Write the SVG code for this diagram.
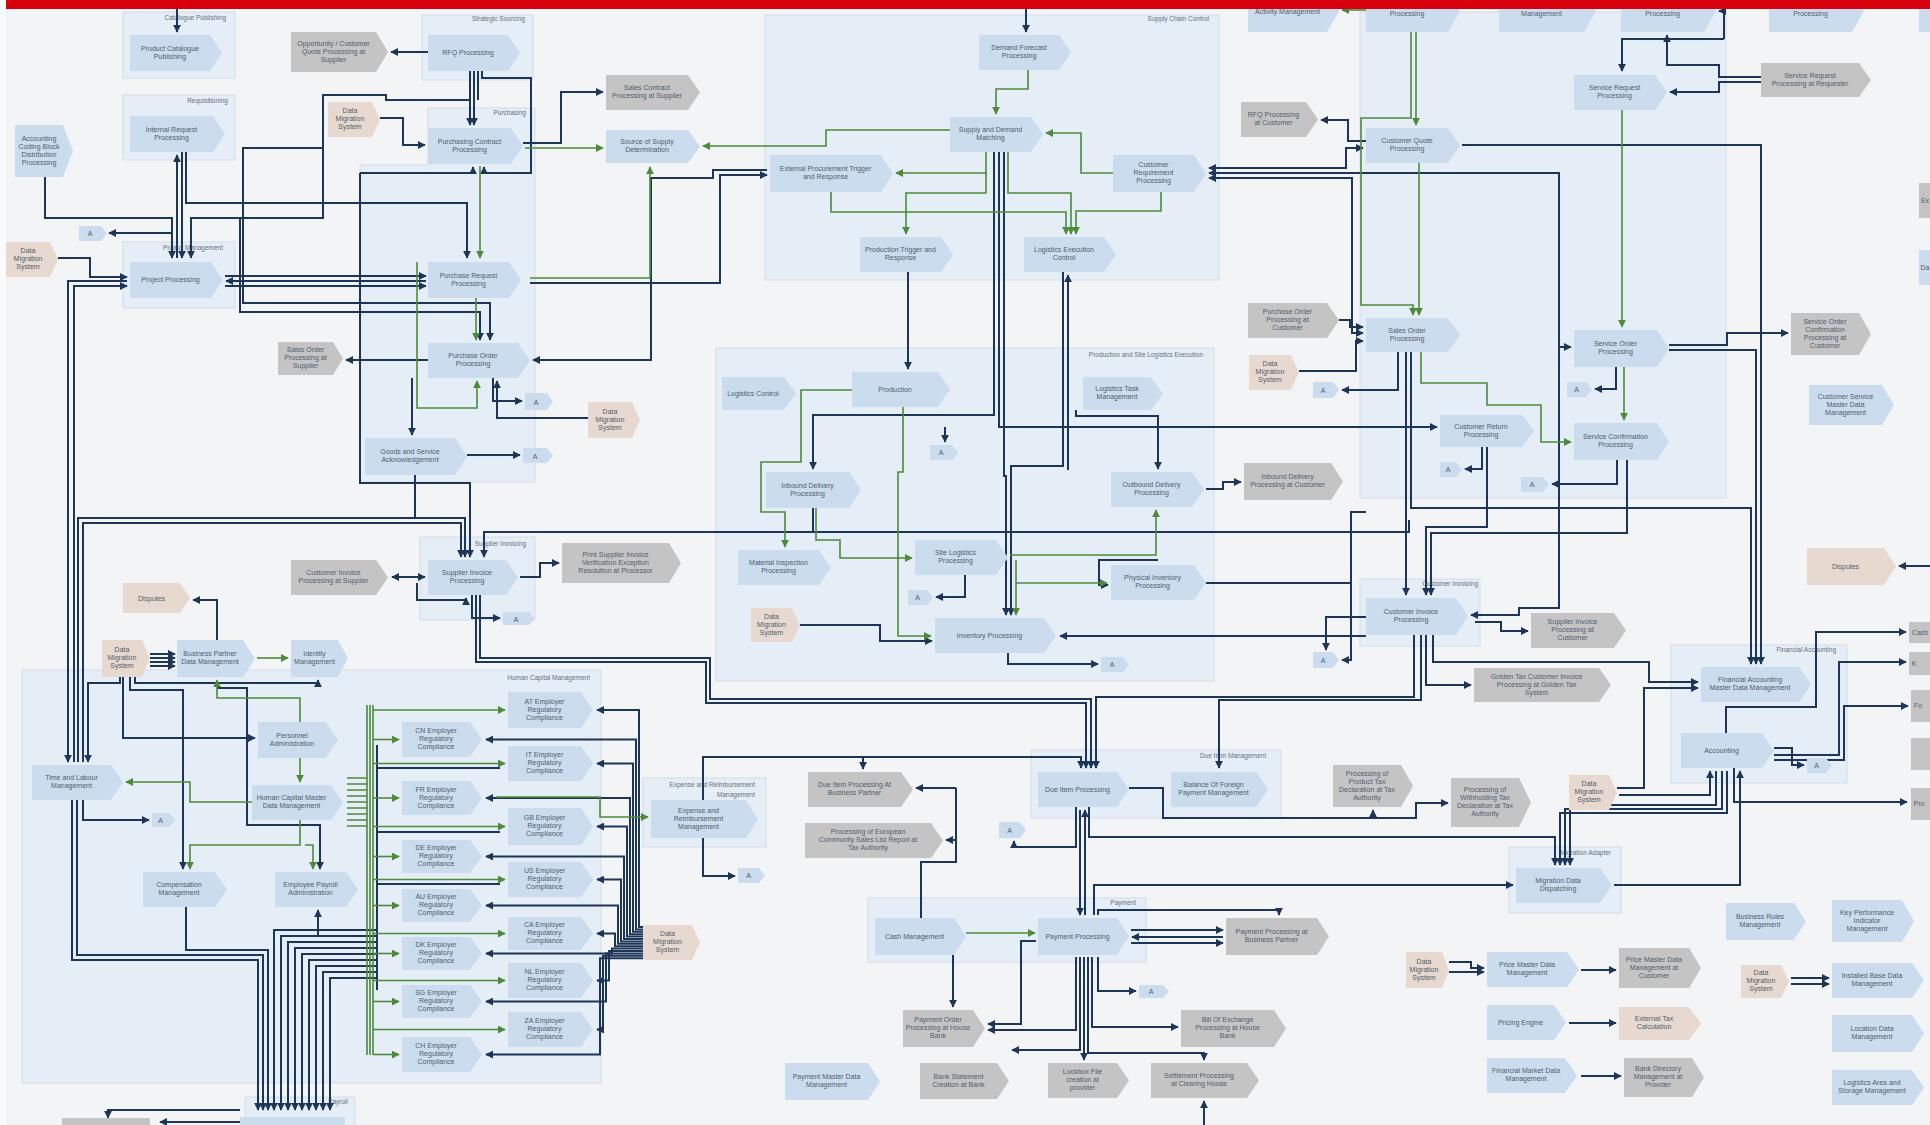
<svg xmlns="http://www.w3.org/2000/svg" width="1930" height="1125" viewBox="0 0 1930 1125">
<style>
.bg{fill:#f3f4f6}
.grp{fill:#e5edf6;stroke:#d4dce6;stroke-width:1}
.gl{font-family:"Liberation Sans",Arial,sans-serif;font-size:6.5px;fill:#66707c;text-anchor:end}
.int path{fill:#cbdcee}
.ext path{fill:#c4c4c4}
.mig path{fill:#e7d9cf}
.nd text{font-family:"Liberation Sans",Arial,sans-serif;font-size:7px;fill:#4f5d6c;text-anchor:middle}
.n{fill:none;stroke:#1d3657;stroke-width:2}
.g{fill:none;stroke:#4d8b3b;stroke-width:1.6}
</style>
<defs>
<marker id="an" viewBox="0 0 10 10" refX="9" refY="5" markerWidth="8" markerHeight="8" markerUnits="userSpaceOnUse" orient="auto"><path d="M0,0L10,5L0,10z" fill="#1d3657"/></marker>
<marker id="sn" viewBox="0 0 10 10" refX="9" refY="5" markerWidth="8" markerHeight="8" markerUnits="userSpaceOnUse" orient="auto-start-reverse"><path d="M0,0L10,5L0,10z" fill="#1d3657"/></marker>
<marker id="ag" viewBox="0 0 10 10" refX="9" refY="5" markerWidth="8" markerHeight="8" markerUnits="userSpaceOnUse" orient="auto"><path d="M0,0L10,5L0,10z" fill="#4d8b3b"/></marker>
</defs>
<rect class="bg" x="0" y="0" width="1930" height="1125"/>
<rect x="0" y="0" width="6" height="1125" fill="#fbfbfb"/>

<g id="groups">
<rect class="grp" x="123" y="12" width="112" height="66"/><text class="gl" x="226" y="20">Catalogue Publishing</text>
<rect class="grp" x="123" y="95" width="112" height="65"/><text class="gl" x="228" y="103">Requisitioning</text>
<rect class="grp" x="422" y="15" width="111" height="65"/><text class="gl" x="525" y="21">Strategic Sourcing</text>
<path class="grp" d="M428 108H535V482H360V165H428Z"/><text class="gl" x="526" y="115">Purchasing</text>
<rect class="grp" x="123" y="242" width="112" height="66"/><text class="gl" x="223" y="250">Project Management</text>
<rect class="grp" x="420" y="537" width="115" height="83"/><text class="gl" x="526" y="546">Supplier Invoicing</text>
<rect class="grp" x="765" y="15" width="454" height="265"/><text class="gl" x="1209" y="21">Supply Chain Control</text>
<rect class="grp" x="716" y="348" width="498" height="333"/><text class="gl" x="1203" y="357">Production and Site Logistics Execution</text>
<rect class="grp" x="1360" y="12" width="366" height="486"/>
<rect class="grp" x="1360" y="579" width="120" height="67"/><text class="gl" x="1478" y="586">Customer Invoicing</text>
<rect class="grp" x="22" y="670" width="579" height="413"/><text class="gl" x="590" y="680">Human Capital Management</text>
<rect class="grp" x="643" y="778" width="123" height="69"/><text class="gl" x="755" y="787">Expense and Reimbursement</text><text class="gl" x="755" y="797">Management</text>
<rect class="grp" x="1671" y="645" width="176" height="138"/><text class="gl" x="1836" y="652">Financial Accounting</text>
<rect class="grp" x="1031" y="750" width="250" height="68"/><text class="gl" x="1266" y="758">Due Item Management</text>
<rect class="grp" x="1509" y="847" width="112" height="66"/><text class="gl" x="1611" y="855">Migration Adapter</text>
<rect class="grp" x="868" y="898" width="278" height="64"/><text class="gl" x="1136" y="905">Payment</text>
<rect class="grp" x="245" y="1097" width="110" height="40"/><text class="gl" x="348" y="1104">Payroll</text>
</g>

<g id="connectors">
<path class="n" d="M177,9V32" marker-end="url(#an)"/>
<path class="n" d="M428,52H391" marker-end="url(#an)"/>
<path class="n" d="M470,71V125" marker-end="url(#an)"/>
<path class="n" d="M474,71V125" marker-end="url(#an)"/>
<path class="n" d="M478,71V100"/>
<path class="n" d="M482,71V78H531V173H484V167" marker-end="url(#an)"/>
<path class="n" d="M470,100H386V95H323V218H191V258" marker-end="url(#an)"/>
<path class="n" d="M177,258V155" marker-end="url(#an)"/>
<path class="n" d="M182,152V258" marker-end="url(#an)"/>
<path class="n" d="M186,152V203H467V258" marker-end="url(#an)"/>
<path class="n" d="M45,177V218H172V258" marker-end="url(#an)"/>
<path class="n" d="M173,233H109" marker-end="url(#an)"/>
<path class="n" d="M58,258H90V277H127" marker-end="url(#an)"/>
<path class="n" d="M127,281H68V762" marker-end="url(#an)"/>
<path class="n" d="M74,762V286H127" marker-end="url(#an)"/>
<path class="n" d="M78,762V518H465V557" marker-end="url(#an)"/>
<path class="n" d="M83,762V523H461V557" marker-end="url(#an)"/>
<path class="n" d="M225,276H426" marker-end="url(#an)"/>
<path class="n" d="M426,281H226" marker-end="url(#an)"/>
<path class="n" d="M225,286H426" marker-end="url(#an)"/>
<path class="n" d="M323,148H243V303H490V340" marker-end="url(#an)"/>
<path class="n" d="M240,218V312H480V340" marker-end="url(#an)"/>
<path class="n" d="M360,173H473V167" marker-end="url(#an)"/>
<path class="n" d="M360,173V483H470V557" marker-end="url(#an)"/>
<path class="n" d="M380,118H403V145H425" marker-end="url(#an)"/>
<path class="n" d="M428,360H346" marker-end="url(#an)"/>
<path class="n" d="M523,143H561V92H603" marker-end="url(#an)"/>
<path class="n" d="M530,283H720V175H767" marker-end="url(#an)"/>
<path class="n" d="M767,170H713V178H651V360H533" marker-end="url(#an)"/>
<path class="n" d="M412,378V435" marker-end="url(#an)"/>
<path class="n" d="M493,378V401H522" marker-end="url(#an)"/>
<path class="n" d="M588,418H497V381" marker-end="url(#an)"/>
<path class="n" d="M467,455H520" marker-end="url(#an)"/>
<path class="n" d="M415,475V518"/>
<path class="n" d="M392,577H425" marker-start="url(#sn)" marker-end="url(#an)"/>
<path class="n" d="M417,583V600H466V598" marker-end="url(#an)"/>
<path class="n" d="M520,577H540V563H559" marker-end="url(#an)"/>
<path class="n" d="M472,595V618H500" marker-end="url(#an)"/>
<path class="n" d="M476,595V662H706V703H1086V768" marker-end="url(#an)"/>
<path class="n" d="M480,595V658H710V699H1091V768" marker-end="url(#an)"/>
<path class="n" d="M150,654H175" marker-end="url(#an)"/>
<path class="n" d="M150,658H175" marker-end="url(#an)"/>
<path class="n" d="M150,662H175" marker-end="url(#an)"/>
<path class="n" d="M150,666H175" marker-end="url(#an)"/>
<path class="n" d="M217,640V600H193" marker-end="url(#an)"/>
<path class="n" d="M120,677V683H88V762" marker-end="url(#an)"/>
<path class="n" d="M123,677V738H255" marker-end="url(#an)"/>
<path class="n" d="M130,677V690H183V869" marker-end="url(#an)"/>
<path class="n" d="M135,677V683H318V680" marker-end="url(#an)"/>
<path class="n" d="M217,688H247V825H320V869" marker-end="url(#an)"/>
<path class="n" d="M83,800V820H149" marker-end="url(#an)"/>
<path class="n" d="M77,800V955H263V1110" marker-end="url(#an)"/>
<path class="n" d="M72,800V960H258V1110" marker-end="url(#an)"/>
<path class="n" d="M186,907V950H268V1110" marker-end="url(#an)"/>
<path class="n" d="M318,935V910" marker-end="url(#an)"/>
<path class="n" d="M377,930H274V1110" marker-end="url(#an)"/>
<path class="n" d="M377,936H281V1110" marker-end="url(#an)"/>
<path class="n" d="M377,942H288V1110" marker-end="url(#an)"/>
<path class="n" d="M377,948H295V1110" marker-end="url(#an)"/>
<path class="n" d="M377,954H302V1110" marker-end="url(#an)"/>
<path class="n" d="M377,960H309V1110" marker-end="url(#an)"/>
<path class="n" d="M377,966H316V1110" marker-end="url(#an)"/>
<path class="n" d="M377,972H323V1110" marker-end="url(#an)"/>
<path class="n" d="M377,978H330V1110" marker-end="url(#an)"/>
<path class="n" d="M377,745V990"/>
<path class="n" d="M377,768H500"/>
<path class="n" d="M377,832H500"/>
<path class="n" d="M377,884H500"/>
<path class="n" d="M643,927H639V710H597" marker-end="url(#an)"/>
<path class="n" d="M643,929.4H636V739.5H486" marker-end="url(#an)"/>
<path class="n" d="M643,931.8H633V763.5H597" marker-end="url(#an)"/>
<path class="n" d="M643,934.2H630V798H486" marker-end="url(#an)"/>
<path class="n" d="M643,936.6H627V826.5H597" marker-end="url(#an)"/>
<path class="n" d="M643,939H624V856.5H486" marker-end="url(#an)"/>
<path class="n" d="M643,941.4H621V879.5H597" marker-end="url(#an)"/>
<path class="n" d="M643,943.8H618V905.5H486" marker-end="url(#an)"/>
<path class="n" d="M643,946.2H615V933.5H597" marker-end="url(#an)"/>
<path class="n" d="M643,948.6H612V953.5H486" marker-end="url(#an)"/>
<path class="n" d="M643,951H609V980.5H597" marker-end="url(#an)"/>
<path class="n" d="M643,953.4H606V1001.5H486" marker-end="url(#an)"/>
<path class="n" d="M643,955.8H603V1029.5H597" marker-end="url(#an)"/>
<path class="n" d="M643,958.2H600V1054.5H486" marker-end="url(#an)"/>
<path class="n" d="M703,800V757H1081V768" marker-end="url(#an)"/>
<path class="n" d="M703,838V876H735" marker-end="url(#an)"/>
<path class="n" d="M863,757V769" marker-end="url(#an)"/>
<path class="n" d="M956,788H916" marker-end="url(#an)"/>
<path class="n" d="M956,788V840H946" marker-end="url(#an)"/>
<path class="n" d="M921,918V862H956V840"/>
<path class="n" d="M953,955V1007" marker-end="url(#an)"/>
<path class="n" d="M1026,9V32" marker-end="url(#an)"/>
<path class="n" d="M908,272V369" marker-end="url(#an)"/>
<path class="n" d="M994,152V415H813V469" marker-end="url(#an)"/>
<path class="n" d="M999,152V427H1437" marker-end="url(#an)"/>
<path class="n" d="M1004,152V476H1006V615" marker-end="url(#an)"/>
<path class="n" d="M1063,272V466H1011V615" marker-end="url(#an)"/>
<path class="n" d="M1068,470V275" marker-end="url(#an)"/>
<path class="n" d="M945,427V442" marker-end="url(#an)"/>
<path class="n" d="M813,508V532H484V557" marker-end="url(#an)"/>
<path class="n" d="M813,532H1409V520"/>
<path class="n" d="M965,575V597H936" marker-end="url(#an)"/>
<path class="n" d="M800,625H880V641H932" marker-end="url(#an)"/>
<path class="n" d="M1076,410V416H1158V469" marker-end="url(#an)"/>
<path class="n" d="M1206,489H1223V482H1241" marker-end="url(#an)"/>
<path class="n" d="M1158,560H1099V585H1108" marker-end="url(#an)"/>
<path class="n" d="M1206,583H1351"/>
<path class="n" d="M1366,512H1351V660H1342" marker-end="url(#an)"/>
<path class="n" d="M1366,636H1060" marker-end="url(#an)"/>
<path class="n" d="M1008,653V664H1098" marker-end="url(#an)"/>
<path class="n" d="M1366,617H1326V650" marker-end="url(#an)"/>
<path class="n" d="M1406,352V595" marker-end="url(#an)"/>
<path class="n" d="M1411,352V508H1751V664" marker-end="url(#an)"/>
<path class="n" d="M1398,352V390H1342" marker-end="url(#an)"/>
<path class="n" d="M1487,447V527H1426V595" marker-end="url(#an)"/>
<path class="n" d="M1627,460V533H1431V595" marker-end="url(#an)"/>
<path class="n" d="M1414,635V697H1096V768" marker-end="url(#an)"/>
<path class="n" d="M1421,635V700H1219V768" marker-end="url(#an)"/>
<path class="n" d="M1426,635V685H1471" marker-end="url(#an)"/>
<path class="n" d="M1433,635V662H1649V682H1698" marker-end="url(#an)"/>
<path class="n" d="M1617,788H1644V688H1698" marker-end="url(#an)"/>
<path class="n" d="M1462,145H1761V664" marker-end="url(#an)"/>
<path class="n" d="M1669,350H1756V664" marker-end="url(#an)"/>
<path class="n" d="M1724,39V11H1719" marker-end="url(#an)"/>
<path class="n" d="M1724,39H1622V71" marker-end="url(#an)"/>
<path class="n" d="M1761,77H1719V65H1667V35" marker-end="url(#an)"/>
<path class="n" d="M1761,82H1719V92H1670" marker-end="url(#an)"/>
<path class="n" d="M1669,345H1727V333H1788" marker-end="url(#an)"/>
<path class="n" d="M1209,173H1559V347H1571" marker-start="url(#sn)" marker-end="url(#an)"/>
<path class="n" d="M1209,168H1346V148H1363" marker-start="url(#sn)" marker-end="url(#an)"/>
<path class="n" d="M1209,178H1352V333H1363" marker-start="url(#sn)" marker-end="url(#an)"/>
<path class="n" d="M1366,141H1348V120H1321" marker-end="url(#an)"/>
<path class="n" d="M1339,320H1350V327H1363" marker-end="url(#an)"/>
<path class="n" d="M1299,371H1356V341H1363" marker-end="url(#an)"/>
<path class="n" d="M1559,347V608H1519V615H1471" marker-end="url(#an)"/>
<path class="n" d="M1475,622H1501V631H1528" marker-end="url(#an)"/>
<path class="n" d="M1482,447V469H1465" marker-end="url(#an)"/>
<path class="n" d="M1617,460V484H1552" marker-end="url(#an)"/>
<path class="n" d="M1616,367V389H1595" marker-end="url(#an)"/>
<path class="n" d="M1129,788H1163V818H1373V810" marker-end="url(#an)"/>
<path class="n" d="M1373,818H1416V803H1448" marker-end="url(#an)"/>
<path class="n" d="M1076,807V847H1014V841" marker-end="url(#an)"/>
<path class="n" d="M1089,807V837H1555V865" marker-end="url(#an)"/>
<path class="n" d="M1080,810V915" marker-end="url(#an)"/>
<path class="n" d="M1085,915V810" marker-end="url(#an)"/>
<path class="n" d="M1094,915V885H1513" marker-end="url(#an)"/>
<path class="n" d="M1131,930H1223" marker-end="url(#an)"/>
<path class="n" d="M1223,937H1132" marker-end="url(#an)"/>
<path class="n" d="M1131,943H1223" marker-end="url(#an)"/>
<path class="n" d="M1098,915V910H1279V915" marker-end="url(#an)"/>
<path class="n" d="M1076,957V1030H988" marker-end="url(#an)"/>
<path class="n" d="M1036,941H1021V1024H988" marker-end="url(#an)"/>
<path class="n" d="M1098,957V991H1136" marker-end="url(#an)"/>
<path class="n" d="M1092,957V1027H1178" marker-end="url(#an)"/>
<path class="n" d="M1088,957V1053H1204V1060" marker-end="url(#an)"/>
<path class="n" d="M1080,957V1050H1012" marker-end="url(#an)"/>
<path class="n" d="M1084,957V1060" marker-end="url(#an)"/>
<path class="n" d="M1204,1125V1101" marker-end="url(#an)"/>
<path class="n" d="M1774,748H1792V765H1804" marker-end="url(#an)"/>
<path class="n" d="M1726,733V707H1816V632H1906" marker-end="url(#an)"/>
<path class="n" d="M1774,755H1839V662H1906" marker-end="url(#an)"/>
<path class="n" d="M1774,760H1844V706H1908" marker-end="url(#an)"/>
<path class="n" d="M1716,771V805H1570V865" marker-end="url(#an)"/>
<path class="n" d="M1722,771V809H1565V865" marker-end="url(#an)"/>
<path class="n" d="M1727,771V813H1560V865" marker-end="url(#an)"/>
<path class="n" d="M1619,795H1710V771" marker-end="url(#an)"/>
<path class="n" d="M1734,768V802H1907" marker-end="url(#an)"/>
<path class="n" d="M1614,885H1740V771" marker-end="url(#an)"/>
<path class="n" d="M1449,962H1471V968H1484" marker-end="url(#an)"/>
<path class="n" d="M1449,972H1484" marker-end="url(#an)"/>
<path class="n" d="M1581,970H1616" marker-end="url(#an)"/>
<path class="n" d="M1569,1023H1616" marker-end="url(#an)"/>
<path class="n" d="M1581,1076H1621" marker-end="url(#an)"/>
<path class="n" d="M1791,978H1829" marker-end="url(#an)"/>
<path class="n" d="M1791,984H1829" marker-end="url(#an)"/>
<path class="n" d="M1930,566H1899" marker-end="url(#an)"/>
<path class="n" d="M240,1110H108V1118" marker-end="url(#an)"/>
<path class="n" d="M245,1122H160" marker-end="url(#an)"/>

<path class="g" d="M525,148H603" marker-end="url(#ag)"/>
<path class="g" d="M950,130H826V146H703" marker-end="url(#ag)"/>
<path class="g" d="M530,278H650V167" marker-end="url(#ag)"/>
<path class="g" d="M480,166V258" marker-end="url(#ag)"/>
<path class="g" d="M476,298V340" marker-end="url(#ag)"/>
<path class="g" d="M417,262V408H477V381" marker-end="url(#ag)"/>
<path class="g" d="M1028,70V89H996V114" marker-end="url(#ag)"/>
<path class="g" d="M1113,173H1081V133H1046" marker-end="url(#ag)"/>
<path class="g" d="M986,152V173H896" marker-end="url(#ag)"/>
<path class="g" d="M986,173V193H906V234" marker-end="url(#ag)"/>
<path class="g" d="M1008,152V193H1071V234" marker-end="url(#ag)"/>
<path class="g" d="M1161,192V211H1076V234" marker-end="url(#ag)"/>
<path class="g" d="M831,192V212H1066V234" marker-end="url(#ag)"/>
<path class="g" d="M855,390H801V462H761V512H785V547" marker-end="url(#ag)"/>
<path class="g" d="M816,508V540H840V558H912" marker-end="url(#ag)"/>
<path class="g" d="M903,407V472H898V636H931" marker-end="url(#ag)"/>
<path class="g" d="M1010,555H1156V510" marker-end="url(#ag)"/>
<path class="g" d="M1016,560V615" marker-end="url(#ag)"/>
<path class="g" d="M1016,583H1107" marker-end="url(#ag)"/>
<path class="g" d="M1366,10H1342" marker-end="url(#ag)"/>
<path class="g" d="M1411,32V118H1361V305H1413V315" marker-end="url(#ag)"/>
<path class="g" d="M1416,32V125" marker-end="url(#ag)"/>
<path class="g" d="M1419,163V315" marker-end="url(#ag)"/>
<path class="g" d="M1622,110V327" marker-end="url(#ag)"/>
<path class="g" d="M1421,352V383H1487V405H1541V442H1571" marker-end="url(#ag)"/>
<path class="g" d="M1624,367V420" marker-end="url(#ag)"/>
<path class="g" d="M257,658H288" marker-end="url(#ag)"/>
<path class="g" d="M300,722V698H217V680" marker-end="url(#ag)"/>
<path class="g" d="M300,758V782" marker-end="url(#ag)"/>
<path class="g" d="M252,802H190V782H126" marker-end="url(#ag)"/>
<path class="g" d="M300,820V845H190V869" marker-end="url(#ag)"/>
<path class="g" d="M305,845H313V869" marker-end="url(#ag)"/>
<path class="g" d="M367,705V1055M370,705V1055M373,705V1055"/>
<path class="g" d="M347,778H367M347,784H367M347,790H367M347,796H367M347,802H367M347,808H367M347,814H367M347,820H367M347,826H367"/>
<path class="g" d="M373,739.5H399" marker-end="url(#ag)"/>
<path class="g" d="M373,798H399" marker-end="url(#ag)"/>
<path class="g" d="M373,856.5H399" marker-end="url(#ag)"/>
<path class="g" d="M373,905.5H399" marker-end="url(#ag)"/>
<path class="g" d="M373,953.5H399" marker-end="url(#ag)"/>
<path class="g" d="M373,1001.5H399" marker-end="url(#ag)"/>
<path class="g" d="M373,1054.5H399" marker-end="url(#ag)"/>
<path class="g" d="M373,710H505" marker-end="url(#ag)"/>
<path class="g" d="M373,763.5H505" marker-end="url(#ag)"/>
<path class="g" d="M373,826.5H505" marker-end="url(#ag)"/>
<path class="g" d="M373,879.5H505" marker-end="url(#ag)"/>
<path class="g" d="M373,933.5H505" marker-end="url(#ag)"/>
<path class="g" d="M373,980.5H505" marker-end="url(#ag)"/>
<path class="g" d="M373,1029.5H505" marker-end="url(#ag)"/>
<path class="g" d="M496,797H600V817H648" marker-end="url(#ag)"/>
<path class="g" d="M966,933H1035" marker-end="url(#ag)"/>
</g>

<g id="catpub" class="nd int"><path d="M130 35H210L222 53L210 71H130Z"/><text x="170" y="50.5">Product Catalogue<tspan x="170" dy="8">Publishing</tspan></text></g>
<g id="intreq" class="nd int"><path d="M130 116H213L225 134L213 152H130Z"/><text x="171.5" y="131.5">Internal Request<tspan x="171.5" dy="8">Processing</tspan></text></g>
<g id="acct" class="nd int"><path d="M15 125H63L73 151L63 177H15Z"/><text x="39" y="140.5">Accounting<tspan x="39" dy="8">Coding Block</tspan><tspan x="39" dy="8">Distribution</tspan><tspan x="39" dy="8">Processing</tspan></text></g>
<g id="oppq" class="nd ext"><path d="M291 32H376L388 52L376 72H291Z"/><text x="333.5" y="45.5">Opportunity / Customer<tspan x="333.5" dy="8">Quote Processing at</tspan><tspan x="333.5" dy="8">Supplier</tspan></text></g>
<g id="rfq" class="nd int"><path d="M428 35H508L520 53L508 71H428Z"/><text x="468" y="55">RFQ Processing</text></g>
<g id="dms1" class="nd mig"><path d="M328 102H372L380 119.5L372 137H328Z"/><text x="350" y="113">Data<tspan x="350" dy="8">Migration</tspan><tspan x="350" dy="8">System</tspan></text></g>
<g id="pcp" class="nd int"><path d="M428 128H511L523 146L511 164H428Z"/><text x="469.5" y="143.5">Purchasing Contract<tspan x="469.5" dy="8">Processing</tspan></text></g>
<g id="scps" class="nd ext"><path d="M606 75H688L700 92.5L688 110H606Z"/><text x="647" y="90">Sales Contract<tspan x="647" dy="8">Processing at Supplier</tspan></text></g>
<g id="sosd" class="nd int"><path d="M606 130H688L700 146.5L688 163H606Z"/><text x="647" y="144">Source of Supply<tspan x="647" dy="8">Determination</tspan></text></g>
<g id="dms2" class="nd mig"><path d="M6 242H50L58 259.5L50 277H6Z"/><text x="28" y="253">Data<tspan x="28" dy="8">Migration</tspan><tspan x="28" dy="8">System</tspan></text></g>
<g id="a1" class="nd int"><path d="M79 226H101L107 233.5L101 241H79Z"/><text x="90" y="236">A</text></g>
<g id="proj" class="nd int"><path d="M130 262H211L223 280L211 298H130Z"/><text x="170.5" y="282">Project Processing</text></g>
<g id="preq" class="nd int"><path d="M428 262H509L521 280L509 298H428Z"/><text x="468.5" y="277.5">Purchase Request<tspan x="468.5" dy="8">Processing</tspan></text></g>
<g id="sosup" class="nd ext"><path d="M278 342H333L343 358.5L333 375H278Z"/><text x="305.5" y="352">Sales Order<tspan x="305.5" dy="8">Processing at</tspan><tspan x="305.5" dy="8">Supplier</tspan></text></g>
<g id="po" class="nd int"><path d="M428 343H518L530 360.5L518 378H428Z"/><text x="473" y="358">Purchase Order<tspan x="473" dy="8">Processing</tspan></text></g>
<g id="a2" class="nd int"><path d="M525 393H547L553 401.5L547 410H525Z"/><text x="536" y="404.5">A</text></g>
<g id="dms3" class="nd mig"><path d="M588 402H632L640 420L632 438H588Z"/><text x="610" y="413.5">Data<tspan x="610" dy="8">Migration</tspan><tspan x="610" dy="8">System</tspan></text></g>
<g id="gsa" class="nd int"><path d="M365 438H455L467 456.5L455 475H365Z"/><text x="410" y="454">Goods and Service<tspan x="410" dy="8">Acknowledgement</tspan></text></g>
<g id="a3" class="nd int"><path d="M523 448H547L553 455.5L547 463H523Z"/><text x="535" y="458.5">A</text></g>
<g id="sip" class="nd int"><path d="M428 560H506L518 577.5L506 595H428Z"/><text x="467" y="575">Supplier Invoice<tspan x="467" dy="8">Processing</tspan></text></g>
<g id="cips" class="nd ext"><path d="M291 560H376L388 577.5L376 595H291Z"/><text x="333.5" y="575">Customer Invoice<tspan x="333.5" dy="8">Processing at Supplier</tspan></text></g>
<g id="sive" class="nd ext"><path d="M562 543H669L681 563L669 583H562Z"/><text x="615.5" y="556.5">Print Supplier Invoice<tspan x="615.5" dy="8">Verification Exception</tspan><tspan x="615.5" dy="8">Resolution at Processor</tspan></text></g>
<g id="a4" class="nd int"><path d="M503 612H529L535 618.5L529 625H503Z"/><text x="516" y="621.5">A</text></g>
<g id="disp1" class="nd mig"><path d="M123 583H180L190 598L180 613H123Z"/><text x="151.5" y="600.5">Disputes</text></g>
<g id="dms4" class="nd mig"><path d="M102 640H142L150 658.5L142 677H102Z"/><text x="122" y="652">Data<tspan x="122" dy="8">Migration</tspan><tspan x="122" dy="8">System</tspan></text></g>
<g id="bpdm" class="nd int"><path d="M177 640H243L255 658.5L243 677H177Z"/><text x="210" y="656">Business Partner<tspan x="210" dy="8">Data Management</tspan></text></g>
<g id="idm" class="nd int"><path d="M291 640H338L348 658.5L338 677H291Z"/><text x="314.5" y="656">Identity<tspan x="314.5" dy="8">Management</tspan></text></g>
<g id="tlm" class="nd int"><path d="M32 765H111L123 782.5L111 800H32Z"/><text x="71.5" y="780">Time and Labour<tspan x="71.5" dy="8">Management</tspan></text></g>
<g id="a5" class="nd int"><path d="M152 813H169L175 820L169 827H152Z"/><text x="160.5" y="822.5">A</text></g>
<g id="pa" class="nd int"><path d="M258 722H326L338 740L326 758H258Z"/><text x="292" y="737.5">Personnel<tspan x="292" dy="8">Administration</tspan></text></g>
<g id="hcmd" class="nd int"><path d="M252 785H331L343 802.5L331 820H252Z"/><text x="291.5" y="800">Human Capital Master<tspan x="291.5" dy="8">Data Management</tspan></text></g>
<g id="comp" class="nd int"><path d="M143 872H215L227 889.5L215 907H143Z"/><text x="179" y="887">Compensation<tspan x="179" dy="8">Management</tspan></text></g>
<g id="epa" class="nd int"><path d="M275 872H346L358 889.5L346 907H275Z"/><text x="310.5" y="887">Employee Payroll<tspan x="310.5" dy="8">Administration</tspan></text></g>
<g id="cn" class="nd int"><path d="M402 722H470L482 739.5L470 757H402Z"/><text x="436" y="733">CN Employer<tspan x="436" dy="8">Regulatory</tspan><tspan x="436" dy="8">Compliance</tspan></text></g>
<g id="fr" class="nd int"><path d="M402 781H470L482 798L470 815H402Z"/><text x="436" y="791.5">FR Employer<tspan x="436" dy="8">Regulatory</tspan><tspan x="436" dy="8">Compliance</tspan></text></g>
<g id="de" class="nd int"><path d="M402 840H470L482 856.5L470 873H402Z"/><text x="436" y="850">DE Employer<tspan x="436" dy="8">Regulatory</tspan><tspan x="436" dy="8">Compliance</tspan></text></g>
<g id="au" class="nd int"><path d="M402 889H470L482 905.5L470 922H402Z"/><text x="436" y="899">AU Employer<tspan x="436" dy="8">Regulatory</tspan><tspan x="436" dy="8">Compliance</tspan></text></g>
<g id="dk" class="nd int"><path d="M402 937H470L482 953.5L470 970H402Z"/><text x="436" y="947">DK Employer<tspan x="436" dy="8">Regulatory</tspan><tspan x="436" dy="8">Compliance</tspan></text></g>
<g id="sg" class="nd int"><path d="M402 985H470L482 1001.5L470 1018H402Z"/><text x="436" y="995">SG Employer<tspan x="436" dy="8">Regulatory</tspan><tspan x="436" dy="8">Compliance</tspan></text></g>
<g id="ch" class="nd int"><path d="M402 1037H470L482 1054.5L470 1072H402Z"/><text x="436" y="1048">CH Employer<tspan x="436" dy="8">Regulatory</tspan><tspan x="436" dy="8">Compliance</tspan></text></g>
<g id="at" class="nd int"><path d="M508 692H581L593 710L581 728H508Z"/><text x="544.5" y="703.5">AT Employer<tspan x="544.5" dy="8">Regulatory</tspan><tspan x="544.5" dy="8">Compliance</tspan></text></g>
<g id="it" class="nd int"><path d="M508 746H581L593 763.5L581 781H508Z"/><text x="544.5" y="757">IT Employer<tspan x="544.5" dy="8">Regulatory</tspan><tspan x="544.5" dy="8">Compliance</tspan></text></g>
<g id="gb" class="nd int"><path d="M508 808H581L593 826.5L581 845H508Z"/><text x="544.5" y="820">GB Employer<tspan x="544.5" dy="8">Regulatory</tspan><tspan x="544.5" dy="8">Compliance</tspan></text></g>
<g id="us" class="nd int"><path d="M508 862H581L593 879.5L581 897H508Z"/><text x="544.5" y="873">US Employer<tspan x="544.5" dy="8">Regulatory</tspan><tspan x="544.5" dy="8">Compliance</tspan></text></g>
<g id="ca" class="nd int"><path d="M508 917H581L593 933.5L581 950H508Z"/><text x="544.5" y="927">CA Employer<tspan x="544.5" dy="8">Regulatory</tspan><tspan x="544.5" dy="8">Compliance</tspan></text></g>
<g id="nl" class="nd int"><path d="M508 963H581L593 980.5L581 998H508Z"/><text x="544.5" y="974">NL Employer<tspan x="544.5" dy="8">Regulatory</tspan><tspan x="544.5" dy="8">Compliance</tspan></text></g>
<g id="za" class="nd int"><path d="M508 1012H581L593 1029.5L581 1047H508Z"/><text x="544.5" y="1023">ZA Employer<tspan x="544.5" dy="8">Regulatory</tspan><tspan x="544.5" dy="8">Compliance</tspan></text></g>
<g id="erm" class="nd int"><path d="M651 800H746L758 819L746 838H651Z"/><text x="698.5" y="812.5">Expense and<tspan x="698.5" dy="8">Reimbursement</tspan><tspan x="698.5" dy="8">Management</tspan></text></g>
<g id="a6" class="nd int"><path d="M738 868H759L765 875.5L759 883H738Z"/><text x="748.5" y="878">A</text></g>
<g id="dms5" class="nd mig"><path d="M643 925H692L700 942.5L692 960H643Z"/><text x="667.5" y="936">Data<tspan x="667.5" dy="8">Migration</tspan><tspan x="667.5" dy="8">System</tspan></text></g>
<g id="dfp" class="nd int"><path d="M979 35H1059L1071 52.5L1059 70H979Z"/><text x="1019" y="50">Demand Forecast<tspan x="1019" dy="8">Processing</tspan></text></g>
<g id="sdm" class="nd int"><path d="M950 117H1031L1043 134.5L1031 152H950Z"/><text x="990.5" y="132">Supply and Demand<tspan x="990.5" dy="8">Matching</tspan></text></g>
<g id="eptr" class="nd int"><path d="M770 155H881L893 173.5L881 192H770Z"/><text x="825.5" y="171">External Procurement Trigger<tspan x="825.5" dy="8">and Response</tspan></text></g>
<g id="crp" class="nd int"><path d="M1113 155H1194L1206 173.5L1194 192H1113Z"/><text x="1153.5" y="167">Customer<tspan x="1153.5" dy="8">Requirement</tspan><tspan x="1153.5" dy="8">Processing</tspan></text></g>
<g id="ptr" class="nd int"><path d="M860 237H941L953 254.5L941 272H860Z"/><text x="900.5" y="252">Production Trigger and<tspan x="900.5" dy="8">Response</tspan></text></g>
<g id="lec" class="nd int"><path d="M1024 237H1104L1116 254.5L1104 272H1024Z"/><text x="1064" y="252">Logistics Execution<tspan x="1064" dy="8">Control</tspan></text></g>
<g id="lc" class="nd int"><path d="M722 377H784L796 393.5L784 410H722Z"/><text x="753" y="396">Logistics Control</text></g>
<g id="prod" class="nd int"><path d="M852 372H938L950 389.5L938 407H852Z"/><text x="895" y="392">Production</text></g>
<g id="ltm" class="nd int"><path d="M1083 377H1151L1163 393.5L1151 410H1083Z"/><text x="1117" y="391">Logistics Task<tspan x="1117" dy="8">Management</tspan></text></g>
<g id="idp" class="nd int"><path d="M766 472H849L861 490L849 508H766Z"/><text x="807.5" y="487.5">Inbound Delivery<tspan x="807.5" dy="8">Processing</tspan></text></g>
<g id="odp" class="nd int"><path d="M1111 472H1192L1204 489.5L1192 507H1111Z"/><text x="1151.5" y="487">Outbound Delivery<tspan x="1151.5" dy="8">Processing</tspan></text></g>
<g id="mip" class="nd int"><path d="M738 550H819L831 567.5L819 585H738Z"/><text x="778.5" y="565">Material Inspection<tspan x="778.5" dy="8">Processing</tspan></text></g>
<g id="slp" class="nd int"><path d="M915 540H996L1008 557.5L996 575H915Z"/><text x="955.5" y="555">Site Logistics<tspan x="955.5" dy="8">Processing</tspan></text></g>
<g id="a7" class="nd int"><path d="M930 445H952L958 452.5L952 460H930Z"/><text x="941" y="455">A</text></g>
<g id="a8" class="nd int"><path d="M908 590H927L933 597.5L927 605H908Z"/><text x="917.5" y="600">A</text></g>
<g id="pip" class="nd int"><path d="M1111 565H1194L1206 582.5L1194 600H1111Z"/><text x="1152.5" y="580">Physical Inventory<tspan x="1152.5" dy="8">Processing</tspan></text></g>
<g id="dms6" class="nd mig"><path d="M751 608H792L800 625L792 642H751Z"/><text x="771.5" y="618.5">Data<tspan x="771.5" dy="8">Migration</tspan><tspan x="771.5" dy="8">System</tspan></text></g>
<g id="invp" class="nd int"><path d="M935 618H1044L1056 635.5L1044 653H935Z"/><text x="989.5" y="638">Inventory Processing</text></g>
<g id="a9" class="nd int"><path d="M1101 657H1123L1129 664.5L1123 672H1101Z"/><text x="1112" y="667">A</text></g>
<g id="idpc" class="nd ext"><path d="M1244 463H1331L1343 481.5L1331 500H1244Z"/><text x="1287.5" y="479">Inbound Delivery<tspan x="1287.5" dy="8">Processing at Customer</tspan></text></g>
<g id="am" class="nd int"><path d="M1248 -10H1327L1339 11L1327 32H1248Z"/><text x="1287.5" y="14">Activity Management</text></g>
<g id="tb2" class="nd int"><path d="M1366 -10H1448L1460 11L1448 32H1366Z"/><text x="1407" y="16">Processing</text></g>
<g id="tb3" class="nd int"><path d="M1499 -10H1584L1596 11L1584 32H1499Z"/><text x="1541.5" y="16">Management</text></g>
<g id="tb4" class="nd int"><path d="M1621 -10H1704L1716 11L1704 32H1621Z"/><text x="1662.5" y="16">Processing</text></g>
<g id="tb5" class="nd int"><path d="M1769 -10H1852L1864 11L1852 32H1769Z"/><text x="1810.5" y="16">Processing</text></g>
<g id="tb6" class="nd int"><path d="M1919 -10H1960V32H1919Z"/></g>
<g id="rfqc" class="nd ext"><path d="M1241 102H1306L1318 119.5L1306 137H1241Z"/><text x="1273.5" y="117">RFQ Processing<tspan x="1273.5" dy="8">at Customer</tspan></text></g>
<g id="cqp" class="nd int"><path d="M1366 128H1448L1460 145.5L1448 163H1366Z"/><text x="1407" y="143">Customer Quote<tspan x="1407" dy="8">Processing</tspan></text></g>
<g id="srp" class="nd int"><path d="M1574 75H1655L1667 92.5L1655 110H1574Z"/><text x="1614.5" y="90">Service Request<tspan x="1614.5" dy="8">Processing</tspan></text></g>
<g id="srpr" class="nd ext"><path d="M1761 63H1859L1871 80L1859 97H1761Z"/><text x="1810" y="77.5">Service Request<tspan x="1810" dy="8">Processing at Requester</tspan></text></g>
<g id="poc" class="nd ext"><path d="M1248 303H1327L1339 320.5L1327 338H1248Z"/><text x="1287.5" y="314">Purchase Order<tspan x="1287.5" dy="8">Processing at</tspan><tspan x="1287.5" dy="8">Customer</tspan></text></g>
<g id="dms7" class="nd mig"><path d="M1249 355H1291L1299 372.5L1291 390H1249Z"/><text x="1270" y="366">Data<tspan x="1270" dy="8">Migration</tspan><tspan x="1270" dy="8">System</tspan></text></g>
<g id="sop" class="nd int"><path d="M1366 318H1448L1460 335L1448 352H1366Z"/><text x="1407" y="332.5">Sales Order<tspan x="1407" dy="8">Processing</tspan></text></g>
<g id="a10" class="nd int"><path d="M1313 382H1333L1339 390L1333 398H1313Z"/><text x="1323" y="392.5">A</text></g>
<g id="sop2" class="nd int"><path d="M1574 330H1657L1669 348.5L1657 367H1574Z"/><text x="1615.5" y="346">Service Order<tspan x="1615.5" dy="8">Processing</tspan></text></g>
<g id="socpc" class="nd ext"><path d="M1791 313H1859L1871 334L1859 355H1791Z"/><text x="1825" y="323.5">Service Order<tspan x="1825" dy="8">Confirmation</tspan><tspan x="1825" dy="8">Processing at</tspan><tspan x="1825" dy="8">Customer</tspan></text></g>
<g id="csmdm" class="nd int"><path d="M1809 385H1882L1894 405L1882 425H1809Z"/><text x="1845.5" y="398.5">Customer Service<tspan x="1845.5" dy="8">Master Data</tspan><tspan x="1845.5" dy="8">Management</tspan></text></g>
<g id="a11" class="nd int"><path d="M1567 382H1586L1592 389.5L1586 397H1567Z"/><text x="1576.5" y="392">A</text></g>
<g id="crtp" class="nd int"><path d="M1440 415H1522L1534 431L1522 447H1440Z"/><text x="1481" y="428.5">Customer Return<tspan x="1481" dy="8">Processing</tspan></text></g>
<g id="scp" class="nd int"><path d="M1574 423H1657L1669 441.5L1657 460H1574Z"/><text x="1615.5" y="439">Service Confirmation<tspan x="1615.5" dy="8">Processing</tspan></text></g>
<g id="a12" class="nd int"><path d="M1440 462H1456L1462 469.5L1456 477H1440Z"/><text x="1448" y="472">A</text></g>
<g id="a13" class="nd int"><path d="M1521 477H1543L1549 484.5L1543 492H1521Z"/><text x="1532" y="487">A</text></g>
<g id="disp2" class="nd mig"><path d="M1807 548H1884L1896 566.5L1884 585H1807Z"/><text x="1845.5" y="569">Disputes</text></g>
<g id="cip" class="nd int"><path d="M1366 598H1456L1468 616.5L1456 635H1366Z"/><text x="1411" y="614">Customer Invoice<tspan x="1411" dy="8">Processing</tspan></text></g>
<g id="a14" class="nd int"><path d="M1313 652H1333L1339 660L1333 668H1313Z"/><text x="1323" y="662.5">A</text></g>
<g id="sipc" class="nd ext"><path d="M1531 613H1614L1626 630.5L1614 648H1531Z"/><text x="1572.5" y="624">Supplier Invoice<tspan x="1572.5" dy="8">Processing at</tspan><tspan x="1572.5" dy="8">Customer</tspan></text></g>
<g id="gtc" class="nd ext"><path d="M1474 668H1599L1611 685L1599 702H1474Z"/><text x="1536.5" y="678.5">Golden Tax Customer Invoice<tspan x="1536.5" dy="8">Processing at Golden Tax</tspan><tspan x="1536.5" dy="8">System</tspan></text></g>
<g id="fam" class="nd int"><path d="M1701 667H1799L1811 684.5L1799 702H1701Z"/><text x="1750" y="682">Financial Accounting<tspan x="1750" dy="8">Master Data Management</tspan></text></g>
<g id="acc" class="nd int"><path d="M1681 733H1762L1774 750.5L1762 768H1681Z"/><text x="1721.5" y="753">Accounting</text></g>
<g id="a15" class="nd int"><path d="M1807 758H1826L1832 765.5L1826 773H1807Z"/><text x="1816.5" y="768">A</text></g>
<g id="rp1" class="nd ext"><path d="M1909 622H1940V643H1909Z"/><text x="1920" y="635">Cash</text></g>
<g id="rp2" class="nd ext"><path d="M1909 652H1940V675H1909Z"/><text x="1914" y="666">K</text></g>
<g id="rp3" class="nd ext"><path d="M1911 690H1940V722H1911Z"/><text x="1918" y="708">Fo</text></g>
<g id="rp4" class="nd ext"><path d="M1911 738H1940V770H1911Z"/></g>
<g id="rp5" class="nd ext"><path d="M1911 788H1940V820H1911Z"/><text x="1919" y="806">Pro</text></g>
<g id="rp6" class="nd ext"><path d="M1919 183H1940V218H1919Z"/><text x="1925" y="203">Ex</text></g>
<g id="rp7" class="nd int"><path d="M1919 250H1940V285H1919Z"/><text x="1925" y="270">Da</text></g>
<g id="dms8" class="nd mig"><path d="M1569 775H1609L1617 792.5L1609 810H1569Z"/><text x="1589" y="786">Data<tspan x="1589" dy="8">Migration</tspan><tspan x="1589" dy="8">System</tspan></text></g>
<g id="wht" class="nd ext"><path d="M1451 778H1519L1531 802.5L1519 827H1451Z"/><text x="1485" y="792">Processing of<tspan x="1485" dy="8">Withholding Tax</tspan><tspan x="1485" dy="8">Declaration at Tax</tspan><tspan x="1485" dy="8">Authority</tspan></text></g>
<g id="ptt" class="nd ext"><path d="M1333 765H1401L1413 786L1401 807H1333Z"/><text x="1367" y="775.5">Processing of<tspan x="1367" dy="8">Product Tax</tspan><tspan x="1367" dy="8">Declaration at Tax</tspan><tspan x="1367" dy="8">Authority</tspan></text></g>
<g id="dip" class="nd int"><path d="M1038 772H1117L1129 789.5L1117 807H1038Z"/><text x="1077.5" y="792">Due Item Processing</text></g>
<g id="bofp" class="nd int"><path d="M1171 772H1256L1268 789.5L1256 807H1171Z"/><text x="1213.5" y="787">Balance Of Foreign<tspan x="1213.5" dy="8">Payment Management</tspan></text></g>
<g id="dibp" class="nd ext"><path d="M808 772H901L913 789.5L901 807H808Z"/><text x="854.5" y="787">Due Item Processing At<tspan x="854.5" dy="8">Business Partner</tspan></text></g>
<g id="ecsl" class="nd ext"><path d="M805 823H931L943 840.5L931 858H805Z"/><text x="868" y="834">Processing of European<tspan x="868" dy="8">Community Sales List Report at</tspan><tspan x="868" dy="8">Tax Authority</tspan></text></g>
<g id="a16" class="nd int"><path d="M999 822H1020L1026 830L1020 838H999Z"/><text x="1009.5" y="832.5">A</text></g>
<g id="mdd" class="nd int"><path d="M1516 868H1600L1612 885.5L1600 903H1516Z"/><text x="1558" y="883">Migration Data<tspan x="1558" dy="8">Dispatching</tspan></text></g>
<g id="cm" class="nd int"><path d="M875 918H954L966 936.5L954 955H875Z"/><text x="914.5" y="939">Cash Management</text></g>
<g id="pp" class="nd int"><path d="M1038 918H1117L1129 936.5L1117 955H1038Z"/><text x="1077.5" y="939">Payment Processing</text></g>
<g id="ppbp" class="nd ext"><path d="M1226 918H1317L1329 936.5L1317 955H1226Z"/><text x="1271.5" y="934">Payment Processing at<tspan x="1271.5" dy="8">Business Partner</tspan></text></g>
<g id="a17" class="nd int"><path d="M1139 985H1163L1169 991.5L1163 998H1139Z"/><text x="1151" y="994">A</text></g>
<g id="poph" class="nd ext"><path d="M903 1010H973L985 1028.5L973 1047H903Z"/><text x="938" y="1022">Payment Order<tspan x="938" dy="8">Processing at House</tspan><tspan x="938" dy="8">Bank</tspan></text></g>
<g id="boe" class="nd ext"><path d="M1181 1010H1274L1286 1028.5L1274 1047H1181Z"/><text x="1227.5" y="1022">Bill Of Exchange<tspan x="1227.5" dy="8">Processing at House</tspan><tspan x="1227.5" dy="8">Bank</tspan></text></g>
<g id="pmdm" class="nd int"><path d="M785 1063H868L880 1081.5L868 1100H785Z"/><text x="826.5" y="1079">Payment Master Data<tspan x="826.5" dy="8">Management</tspan></text></g>
<g id="bsc" class="nd ext"><path d="M920 1063H997L1009 1081L997 1099H920Z"/><text x="958.5" y="1078.5">Bank Statement<tspan x="958.5" dy="8">Creation at Bank</tspan></text></g>
<g id="lfc" class="nd ext"><path d="M1048 1063H1117L1129 1080.5L1117 1098H1048Z"/><text x="1082.5" y="1074">Lockbox File<tspan x="1082.5" dy="8">creation at</tspan><tspan x="1082.5" dy="8">provider</tspan></text></g>
<g id="spch" class="nd ext"><path d="M1151 1063H1247L1259 1080.5L1247 1098H1151Z"/><text x="1199" y="1078">Settlement Processing<tspan x="1199" dy="8">at Clearing House</tspan></text></g>
<g id="brm" class="nd int"><path d="M1726 903H1794L1806 921.5L1794 940H1726Z"/><text x="1760" y="919">Business Rules<tspan x="1760" dy="8">Management</tspan></text></g>
<g id="kpi" class="nd int"><path d="M1832 900H1902L1914 921L1902 942H1832Z"/><text x="1867" y="914.5">Key Performance<tspan x="1867" dy="8">Indicator</tspan><tspan x="1867" dy="8">Management</tspan></text></g>
<g id="pmd" class="nd int"><path d="M1487 952H1567L1579 969.5L1567 987H1487Z"/><text x="1527" y="967">Price Master Data<tspan x="1527" dy="8">Management</tspan></text></g>
<g id="pmdc" class="nd ext"><path d="M1619 948H1689L1701 968L1689 988H1619Z"/><text x="1654" y="961.5">Price Master Data<tspan x="1654" dy="8">Management at</tspan><tspan x="1654" dy="8">Customer</tspan></text></g>
<g id="dms9" class="nd mig"><path d="M1406 952H1442L1449 970L1442 988H1406Z"/><text x="1424" y="963.5">Data<tspan x="1424" dy="8">Migration</tspan><tspan x="1424" dy="8">System</tspan></text></g>
<g id="dms10" class="nd mig"><path d="M1741 965H1781L1789 981.5L1781 998H1741Z"/><text x="1761" y="975">Data<tspan x="1761" dy="8">Migration</tspan><tspan x="1761" dy="8">System</tspan></text></g>
<g id="ibdm" class="nd int"><path d="M1832 963H1912L1924 980.5L1912 998H1832Z"/><text x="1872" y="978">Installed Base Data<tspan x="1872" dy="8">Management</tspan></text></g>
<g id="pe" class="nd int"><path d="M1487 1005H1554L1566 1022.5L1554 1040H1487Z"/><text x="1520.5" y="1025">Pricing Engine</text></g>
<g id="etc" class="nd mig"><path d="M1619 1007H1689L1701 1023.5L1689 1040H1619Z"/><text x="1654" y="1021">External Tax<tspan x="1654" dy="8">Calculation</tspan></text></g>
<g id="ldm" class="nd int"><path d="M1832 1015H1912L1924 1033.5L1912 1052H1832Z"/><text x="1872" y="1031">Location Data<tspan x="1872" dy="8">Management</tspan></text></g>
<g id="fmdm" class="nd int"><path d="M1487 1058H1565L1577 1075.5L1565 1093H1487Z"/><text x="1526" y="1073">Financial Market Data<tspan x="1526" dy="8">Management</tspan></text></g>
<g id="bdm" class="nd ext"><path d="M1624 1058H1692L1704 1077.5L1692 1097H1624Z"/><text x="1658" y="1071">Bank Directory<tspan x="1658" dy="8">Management at</tspan><tspan x="1658" dy="8">Provider</tspan></text></g>
<g id="lasm" class="nd int"><path d="M1832 1070H1912L1924 1087.5L1912 1105H1832Z"/><text x="1872" y="1085">Logistics Area and<tspan x="1872" dy="8">Storage Management</tspan></text></g>
<g id="bp1" class="nd ext"><path d="M62 1118H150V1130H62Z"/></g>
<g id="bp2" class="nd int"><path d="M240 1117H345V1130H240Z"/></g>

<rect x="6" y="0" width="1924" height="9" fill="#d9000d"/>
</svg>
